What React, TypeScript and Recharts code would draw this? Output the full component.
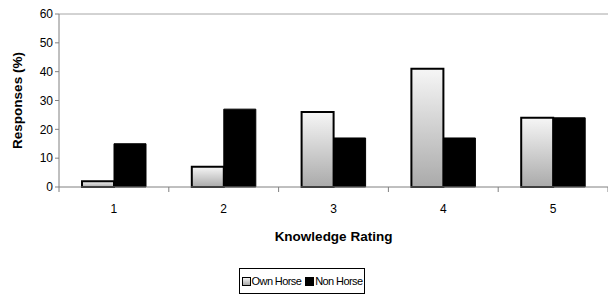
import { Bar, BarChart, Legend, ReferenceLine, XAxis, YAxis } from "recharts";

const RATINGS = ["1", "2", "3", "4", "5"];
const OWN_HORSE = [2, 7, 26, 41, 24];
const NON_HORSE = [15, 27, 17, 17, 24];
const Y_TICKS = [0, 10, 20, 30, 40, 50, 60];

const data = RATINGS.map((r, i) => ({ r, own: OWN_HORSE[i], non: NON_HORSE[i] }));

const font = "'Liberation Sans', Arial, sans-serif";

function CatTick(props: any) {
  const { x, y, payload, index } = props;
  const half = payload?.offset ?? 55;
  return (
    <g>
      <line x1={x - half} x2={x - half} y1={y - 8} y2={y - 3} stroke="#808080" />
      {index === RATINGS.length - 1 && (
        <line x1={x + half} x2={x + half} y1={y - 8} y2={y - 3} stroke="#808080" />
      )}
      <text x={x} y={y + 18} textAnchor="middle" fontSize={12} fontFamily={font} fill="#000">
        {payload.value}
      </text>
    </g>
  );
}

function LegendBox() {
  const item = (fill: string, label: string, gap: number) => (
    <span style={{ display: "inline-flex", alignItems: "center", marginRight: gap }}>
      <span
        style={{
          display: "inline-block",
          width: 7,
          height: 7,
          border: "1px solid #000",
          background: fill,
          marginRight: 1,
        }}
      />
      {label}
    </span>
  );
  return (
    <div style={{ display: "flex", justifyContent: "center", paddingTop: 21 }}>
      <div
        style={{
          border: "1px solid #000",
          padding: "5px 2px 5px 2px",
          fontFamily: font,
          fontSize: 11,
          letterSpacing: -0.6,
          lineHeight: "14px",
          display: "flex",
          marginLeft: -33,
        }}
      >
        {item("linear-gradient(#f4f4f4, #a8a8a8)", "Own Horse", 4)}
        {item("#000", "Non Horse", 0)}
      </div>
    </div>
  );
}

export default function App() {
  return (
    <div style={{ position: "absolute", left: 0, top: 0, width: 608, height: 297, background: "#fff" }}>
      <style>{"body{margin:0}"}</style>
      <BarChart
        width={608}
        height={297}
        data={data}
        margin={{ top: 14, right: 0, left: 29, bottom: 0 }}
        barSize={32}
        barGap={0}
      >
        <defs>
          <linearGradient id="ownFill" x1="0" y1="0" x2="0" y2="1">
            <stop offset="0%" stopColor="#f6f6f6" />
            <stop offset="100%" stopColor="#aaaaaa" />
          </linearGradient>
        </defs>
        <ReferenceLine y={60} stroke="#a6a6a6" />
        <XAxis
          dataKey="r"
          height={60}
          axisLine={{ stroke: "#808080" }}
          tickLine={false}
          tick={<CatTick />}
          interval={0}
          label={{
            value: "Knowledge Rating",
            position: "insideBottom",
            offset: 6,
            style: { fontFamily: font, fontSize: 13.5, fontWeight: "bold", fill: "#000" },
          }}
        />
        <YAxis
          width={30}
          domain={[0, 60]}
          ticks={Y_TICKS}
          interval={0}
          axisLine={{ stroke: "#808080" }}
          tickLine={{ stroke: "#808080" }}
          tickSize={4}
          tick={{ fontFamily: font, fontSize: 12, fill: "#000" }}
          label={{
            value: "Responses (%)",
            angle: -90,
            position: "insideLeft",
            offset: -12,
            style: { fontFamily: font, fontSize: 13.5, fontWeight: "bold", fill: "#000", textAnchor: "middle" },
          }}
        />
        <Legend verticalAlign="bottom" height={50} content={<LegendBox />} />
        <Bar dataKey="own" name="Own Horse" fill="url(#ownFill)" stroke="#000" strokeWidth={2} isAnimationActive={false} />
        <Bar dataKey="non" name="Non Horse" fill="#000" stroke="#000" strokeWidth={1} isAnimationActive={false} />
      </BarChart>
    </div>
  );
}
